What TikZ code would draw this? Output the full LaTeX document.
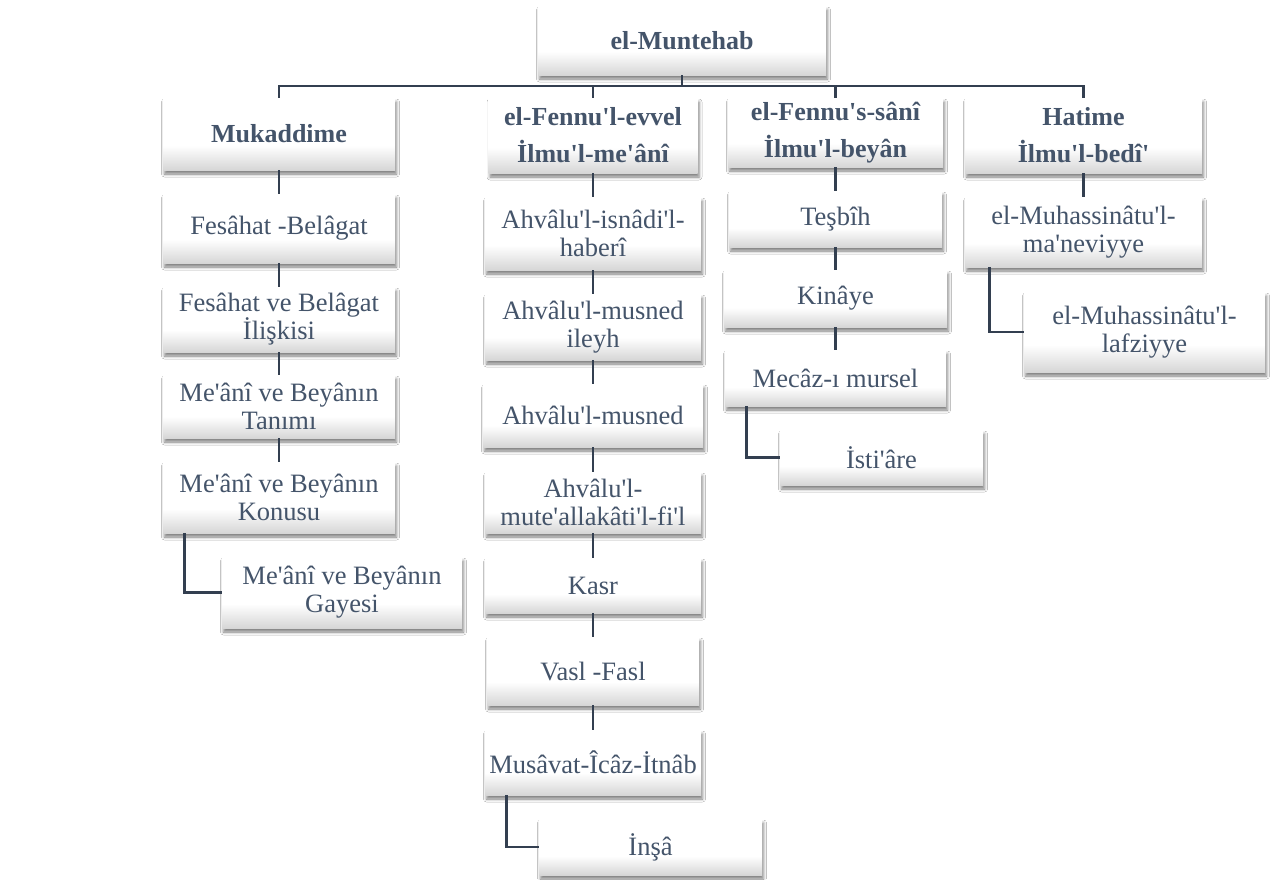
\documentclass[tikz,border=0pt]{standalone}
\usepackage{fontspec}
\setmainfont{Liberation Serif}[Ligatures=TeXOff]
\usetikzlibrary{positioning}
\usetikzlibrary{shadows.blur}
\definecolor{boxtext}{HTML}{44546A}
\definecolor{linkc}{HTML}{333F50}
\pgfdeclareverticalshading{boxshade}{100bp}{color(0bp)=(black!16); color(25bp)=(black!16); color(42bp)=(white); color(100bp)=(white)}
\tikzset{
    mynode/.style = {rectangle, draw=none, align=center, text=boxtext, inner sep=1pt,
        shading=boxshade,
        blur shadow={shadow xshift=1.5pt, shadow yshift=-4pt, shadow blur radius=3pt, shadow opacity=50},
        font=\fontsize{26.5}{28}\selectfont},
    mynodeb/.style = {mynode, font=\fontsize{26}{37}\selectfont\bfseries},
    edgen/.style = {draw=linkc, line width=2.8pt}, % links
}

\begin{document}
\begin{tikzpicture}[x=1pt, y=-1pt]
  \fill[white] (0,0) rectangle (1278,879);
  \useasboundingbox (0,0) rectangle (1278,879);

  % top
  \node[mynodeb, minimum width=288pt, minimum height=69pt] (root) at (682,40.5) {el-Muntehab};
  \coordinate (bus) at (682,86);

  % Mukaddime
  \node[mynodeb, minimum width=232pt, minimum height=72pt] (muk) at (279,134) {Mukaddime};
  \node[mynode, minimum width=232pt, minimum height=69pt] (fes) at (279,228.5) {Fesâhat -Belâgat};
  \node[mynode, minimum width=232pt, minimum height=65pt] (iliski) at (279,319.5) {Fesâhat ve Belâgat\\İlişkisi};
  \node[mynode, minimum width=232pt, minimum height=63pt] (tanim) at (279,406.5) {Me'ânî ve Beyânın\\Tanımı};
  \node[mynode, minimum width=232pt, minimum height=71pt] (konu) at (279,497.5) {Me'ânî ve Beyânın\\Konusu};
  \node[mynode, minimum width=240pt, minimum height=71pt] (gaye) at (342,592.5) {Me'ânî ve Beyânın\\Gayesi};

  % el-Fennu'l-evvel
  \node[mynodeb, minimum width=209pt, minimum height=75pt] (evvel) at (593,135.5) {el-Fennu'l-evvel\\İlmu'l-me'ânî};
  \node[mynode, minimum width=216pt, minimum height=73pt] (haberi) at (593,233.5) {Ahvâlu'l-isnâdi'l-\\haberî};
  \node[mynode, minimum width=216pt, minimum height=66pt] (ileyh) at (593,327) {Ahvâlu'l-musned\\ileyh};
  \node[mynode, minimum width=220pt, minimum height=63pt] (musned) at (593,415.5) {Ahvâlu'l-musned};
  \node[mynode, minimum width=216pt, minimum height=61pt] (fiil) at (593,502.5) {Ahvâlu'l-\\mute'allakâti'l-fi'l};
  \node[mynode, minimum width=216pt, minimum height=55pt] (kasr) at (593,585.5) {Kasr};
  \node[mynode, minimum width=212pt, minimum height=68pt] (vasl) at (593,671) {Vasl -Fasl};
  \node[mynode, minimum width=216pt, minimum height=65pt] (musavat) at (593,762.5) {Musâvat-Îcâz-İtnâb};
  \node[mynode, minimum width=223pt, minimum height=56pt] (insa) at (650.5,847) {İnşâ};

  % el-Fennu's-sani
  \node[mynodeb, minimum width=215pt, minimum height=69pt] (sani) at (835.5,132.5) {el-Fennu's-sânî\\İlmu'l-beyân};
  \node[mynode, minimum width=213pt, minimum height=56pt] (tesbih) at (835.5,219) {Teşbîh};
  \node[mynode, minimum width=223pt, minimum height=57pt] (kinaye) at (835.5,298.5) {Kinâye};
  \node[mynode, minimum width=221pt, minimum height=56pt] (mecaz) at (835.5,378) {Mecâz-ı mursel};
  \node[mynode, minimum width=203pt, minimum height=55pt] (istiare) at (881.5,457.5) {İsti'âre};

  % Hatime
  \node[mynodeb, minimum width=237pt, minimum height=75pt] (hat) at (1083.5,135.5) {Hatime\\İlmu'l-bedî'};
  \node[mynode, minimum width=237pt, minimum height=70pt] (manevi) at (1083.5,232) {el-Muhassinâtu'l-\\ma'neviyye};
  \node[mynode, minimum width=241pt, minimum height=80pt] (lafzi) at (1144.5,332) {el-Muhassinâtu'l-\\lafziyye};

  % links
  \draw[edgen] (root.south) -- (bus);
  \draw[edgen] (muk.north) |- (bus) -| (hat.north);
  \draw[edgen] (evvel.north) -- (evvel.north |- bus);
  \draw[edgen] (sani.north) -- (sani.north |- bus);

  \draw[edgen] (muk) -- (fes);
  \draw[edgen] (fes) -- (iliski);
  \draw[edgen] (iliski) -- (tanim);
  \draw[edgen] (tanim) -- (konu);
  \draw[edgen] (konu.south west) ++(22,0) |- (gaye.west);

  \draw[edgen] (evvel) -- (haberi);
  \draw[edgen] (haberi) -- (ileyh);
  \draw[edgen] (ileyh) -- (musned);
  \draw[edgen] (musned) -- (fiil);
  \draw[edgen] (fiil) -- (kasr);
  \draw[edgen] (kasr) -- (vasl);
  \draw[edgen] (vasl) -- (musavat);
  \draw[edgen] (musavat.south west) ++(22,0) |- (insa.west);

  \draw[edgen] (sani) -- (tesbih);
  \draw[edgen] (tesbih) -- (kinaye);
  \draw[edgen] (kinaye) -- (mecaz);
  \draw[edgen] (mecaz.south west) ++(22,0) |- (istiare.west);

  \draw[edgen] (hat) -- (manevi);
  \draw[edgen] (manevi.south west) ++(25,0) |- (lafzi.west);
\end{tikzpicture}
\end{document}
